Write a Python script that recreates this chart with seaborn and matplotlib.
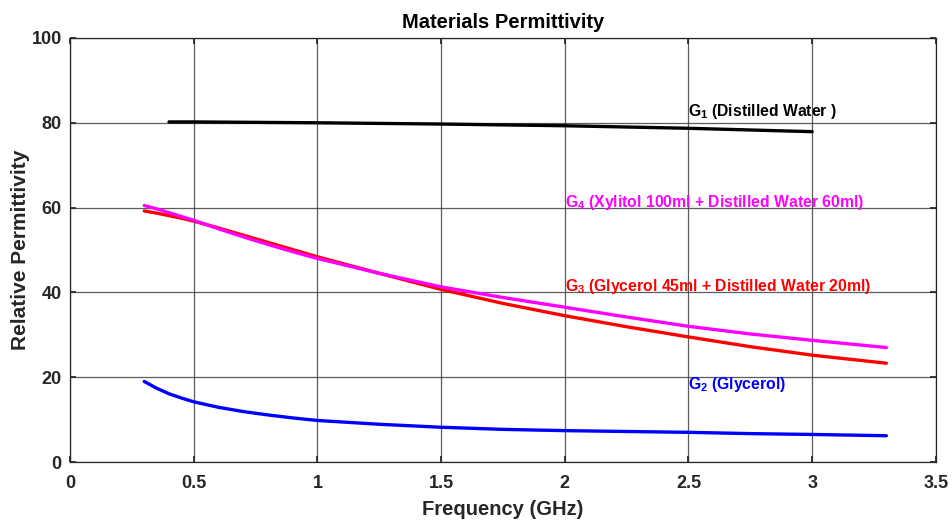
import matplotlib
matplotlib.use("Agg")
import matplotlib.pyplot as plt
import seaborn as sns
import pandas as pd

# Relative permittivity vs frequency (GHz)
freq_g1 = [0.4, 0.5, 1.0, 1.5, 2.0, 2.5, 3.0]
perm_g1 = [80.2, 80.2, 80.0, 79.7, 79.3, 78.7, 77.9]

freq_g = [0.3, 0.35, 0.4, 0.45, 0.5, 0.6, 0.7, 0.8, 0.9, 1.0, 1.25, 1.5, 1.75,
          2.0, 2.25, 2.5, 2.75, 3.0, 3.3]
perm_g2 = [19.0, 17.4, 16.1, 15.1, 14.2, 12.9, 11.9, 11.1, 10.4, 9.8, 8.9, 8.2,
           7.7, 7.4, 7.2, 7.0, 6.7, 6.5, 6.2]
perm_g3 = [59.2, 58.7, 58.1, 57.5, 56.8, 55.2, 53.5, 51.8, 50.1, 48.4, 44.5, 40.7,
           37.4, 34.5, 31.9, 29.5, 27.2, 25.2, 23.3]
perm_g4 = [60.5, 59.7, 58.8, 57.9, 57.0, 55.0, 53.1, 51.3, 49.6, 48.0, 44.5, 41.3,
           38.8, 36.5, 34.2, 32.0, 30.2, 28.7, 27.0]

series_names = ["G1", "G2", "G3", "G4"]
series_colors = ["#000000", "#0000ff", "#ff0000", "#ff00ff"]
label_texts = [
    r"G$_\mathbf{1}$ (Distilled Water )",
    r"G$_\mathbf{2}$ (Glycerol)",
    r"G$_\mathbf{3}$ (Glycerol 45ml + Distilled Water 20ml)",
    r"G$_\mathbf{4}$ (Xylitol 100ml + Distilled Water 60ml)",
]
label_x = [2.5, 2.5, 2.0, 2.0]
label_y = [82.6, 18.2, 41.3, 61.1]

x_ticks = [0, 0.5, 1, 1.5, 2, 2.5, 3, 3.5]
x_tick_labels = ["0", "0.5", "1", "1.5", "2", "2.5", "3", "3.5"]
y_ticks = [0, 20, 40, 60, 80, 100]

frames = [pd.DataFrame({"freq": freq_g1, "perm": perm_g1, "series": "G1"})]
for name, vals in zip(["G2", "G3", "G4"], [perm_g2, perm_g3, perm_g4]):
    frames.append(pd.DataFrame({"freq": freq_g, "perm": vals, "series": name}))
df = pd.concat(frames, ignore_index=True)

sns.set_theme(style="white")
plt.rcParams["font.family"] = ["Liberation Sans", "DejaVu Sans"]
plt.rcParams["font.weight"] = "bold"
plt.rcParams["mathtext.fontset"] = "custom"
plt.rcParams["mathtext.rm"] = "Liberation Sans:bold"
plt.rcParams["mathtext.bf"] = "Liberation Sans:bold"
plt.rcParams["mathtext.it"] = "Liberation Sans:bold"

fig = plt.figure(figsize=(9.53, 5.2), dpi=100)
ax = fig.add_axes([0.0735, 0.1115, 0.9085, 0.8155])

sns.lineplot(data=df, x="freq", y="perm", hue="series", hue_order=series_names,
             palette=dict(zip(series_names, series_colors)), linewidth=2.4,
             legend=False, ax=ax, sort=True, estimator=None)

for txt, x, y, c in zip(label_texts, label_x, label_y, series_colors):
    ax.text(x, y, txt, color=c, fontsize=11.3, fontweight="bold", va="center", ha="left")

ax.set_xlim(0, 3.5)
ax.set_ylim(0, 100)
ax.set_xticks(x_ticks)
ax.set_xticklabels(x_tick_labels)
ax.set_yticks(y_ticks)
ax.grid(True, color="#404040", linewidth=0.9, alpha=0.85)
ax.tick_params(direction="in", length=4, labelsize=13, colors="#262626",
               bottom=True, left=True, top=True, right=True)
ax.tick_params(axis="x", pad=9)
ax.tick_params(axis="y", pad=6)
for lab in ax.get_xticklabels() + ax.get_yticklabels():
    lab.set_fontweight("bold")
for s in ax.spines.values():
    s.set_color("#262626")
    s.set_linewidth(0.9)

ax.set_xlabel("Frequency (GHz)", fontsize=14.5, fontweight="bold", color="#262626", labelpad=6)
ax.set_ylabel("Relative Permittivity", fontsize=15, fontweight="bold", color="#262626", labelpad=1)
ax.set_title("Materials Permittivity", fontsize=14.5, fontweight="bold", color="black", pad=7)

fig.savefig("out.png", dpi=100, facecolor="white")
